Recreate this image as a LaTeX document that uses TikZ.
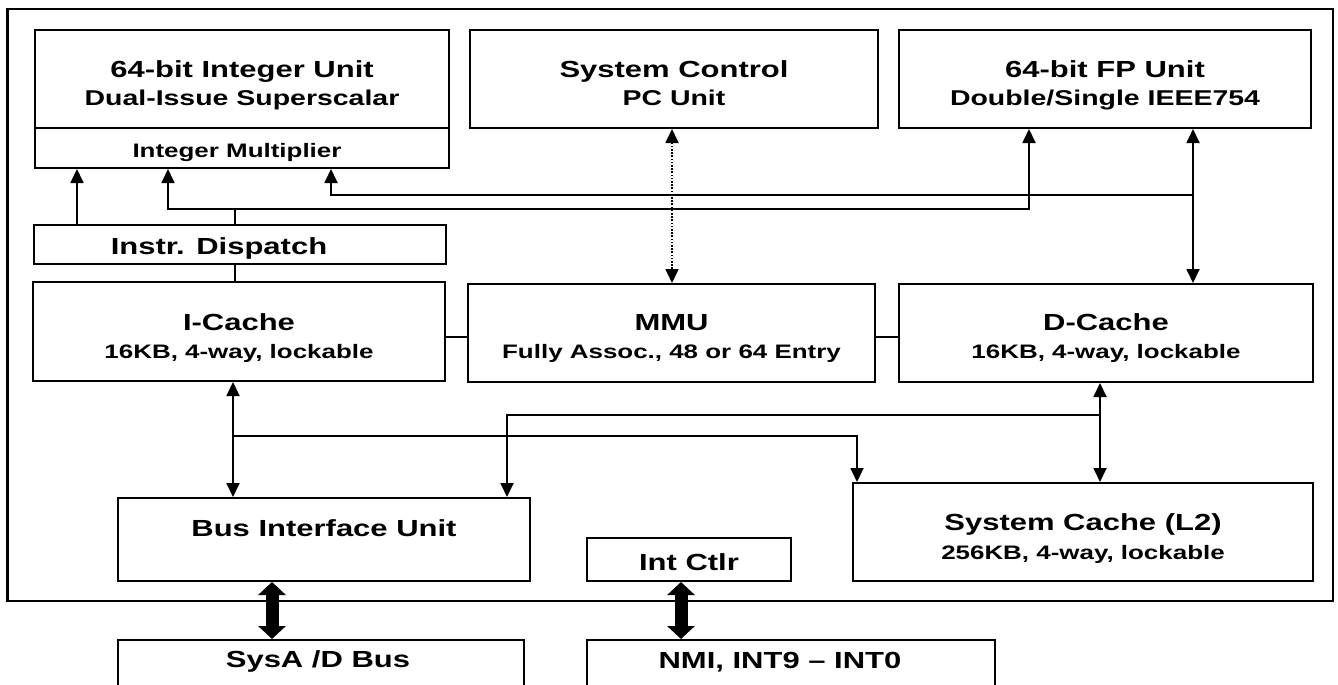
\documentclass[tikz,border=0pt]{standalone}
\usepackage{fontspec}
\setmainfont{Liberation Sans}[FakeStretch=1.33]
\usetikzlibrary{arrows.meta}
\newcommand{\boxtitle}{\fontsize{23.3pt}{28pt}\selectfont\bfseries}
\newcommand{\boxsub}{\fontsize{21.4pt}{26pt}\selectfont\bfseries}
\newcommand{\boxsmall}{\fontsize{19.5pt}{24pt}\selectfont\bfseries}

\begin{document}
\begin{tikzpicture}[x=1pt,y=-1pt,>={Triangle[width=13pt,length=14pt]},
  blk/.style={draw,line width=2pt,inner sep=0pt},
  ttl/.style={anchor=base,inner sep=0pt,font=\boxtitle},
  subt/.style={anchor=base,inner sep=0pt,font=\boxsub},
  smallt/.style={anchor=base,inner sep=0pt,font=\boxsmall},
  wire/.style={line width=1.8pt},
  fat/.style={line width=13pt,>={Triangle[width=27pt,length=13pt]},<->}]

\useasboundingbox (0,0) rectangle (1338,685);
\clip (0,0) rectangle (1338,685);

\draw[line width=2.5pt] (7.7,9) rectangle (1333,601);

\node[blk,minimum width=414,minimum height=98] (intu) at (242,79) {};
\node[blk,minimum width=414,minimum height=40] (mult) at (242,148) {};
\node[blk,minimum width=408,minimum height=98] (sysc) at (674,79) {};
\node[blk,minimum width=412,minimum height=98] (fpu) at (1105,79) {};
\node[blk,minimum width=412,minimum height=39] (disp) at (240,244.5) {};
\node[blk,minimum width=412,minimum height=99] (icache) at (239,331.5) {};
\node[blk,minimum width=407,minimum height=98] (mmu) at (671.5,333) {};
\node[blk,minimum width=414,minimum height=98] (dcache) at (1106,333) {};
\node[blk,minimum width=412,minimum height=83] (biu) at (324,539.5) {};
\node[blk,minimum width=460,minimum height=98] (l2) at (1083,532) {};
\node[blk,minimum width=204,minimum height=43] (intc) at (689,559.5) {};
\node[blk,minimum width=406,minimum height=100] (sysbus) at (321,690) {};
\node[blk,minimum width=408,minimum height=100] (nmi) at (791,690) {};

\node[ttl] (intu-a) at (242,77.4) {64-bit Integer Unit};
\node[subt] (intu-b) at (242,105.7) {Dual-Issue Superscalar};
\node[smallt] (mult-a) at (237,157) {Integer Multiplier};
\node[ttl] (sysc-a) at (674,77.4) {System Control};
\node[subt] (sysc-b) at (674,105.7) {PC Unit};
\node[ttl] (fpu-a) at (1105,77.4) {64-bit FP Unit};
\node[subt] (fpu-b) at (1105,105.7) {Double/Single IEEE754};
\node[ttl] (disp-a) at (219,254.4) {Instr. Dispatch};
\node[ttl] (icache-a) at (239,330.4) {I-Cache};
\node[smallt] (icache-b) at (239,358.5) {16KB, 4-way, lockable};
\node[ttl] (mmu-a) at (671.5,330.4) {MMU};
\node[smallt] (mmu-b) at (671.5,358.5) {Fully Assoc., 48 or 64 Entry};
\node[ttl] (dcache-a) at (1106,330.4) {D-Cache};
\node[smallt] (dcache-b) at (1106,358.5) {16KB, 4-way, lockable};
\node[ttl] (biu-a) at (324,536.4) {Bus Interface Unit};
\node[ttl] (l2-a) at (1083,530.4) {System Cache (L2)};
\node[smallt] (l2-b) at (1083,559) {256KB, 4-way, lockable};
\node[ttl] (intc-a) at (689,570) {Int Ctlr};
\node[ttl] (sysbus-a) at (318,667.4) {SysA /D Bus};
\node[ttl] (nmi-a) at (780,668.4) {NMI, INT9 – INT0};

\draw[wire,->] (77,0 |- disp.north) -- (77,0 |- mult.south);
\draw[wire] (235,0 |- disp.north) -- (235,209);
\draw[wire,<->] (168,0 |- mult.south) |- (1029,209) -- (1029,0 |- fpu.south);
\draw[wire,<-] (331,0 |- mult.south) |- (1193,195);
\draw[wire,<->] (1193,0 |- fpu.south) -- (1193,0 |- dcache.north);
\draw[wire] (235,0 |- disp.south) -- (235,0 |- icache.north);
\draw[wire] (icache.east |- 0,337) -- (mmu.west |- 0,337);
\draw[wire] (mmu.east |- 0,337) -- (dcache.west |- 0,337);
\draw[dash pattern=on 1.6pt off 1.6pt,line width=1.8pt,<->] (672,0 |- sysc.south) -- (672,0 |- mmu.north);

\draw[wire,<->] (233,0 |- icache.south) -- (233,0 |- biu.north);
\draw[wire,->] (233,436) -| (857,0 |- l2.north);
\draw[wire,->] (1100,415) -| (507,0 |- biu.north);
\draw[wire,<->] (1100,0 |- dcache.south) -- (1100,0 |- l2.north);

\draw[fat] (272,0 |- biu.south) -- (272,0 |- sysbus.north);
\draw[fat] (681,0 |- intc.south) -- (681,0 |- nmi.north);

\end{tikzpicture}
\end{document}
